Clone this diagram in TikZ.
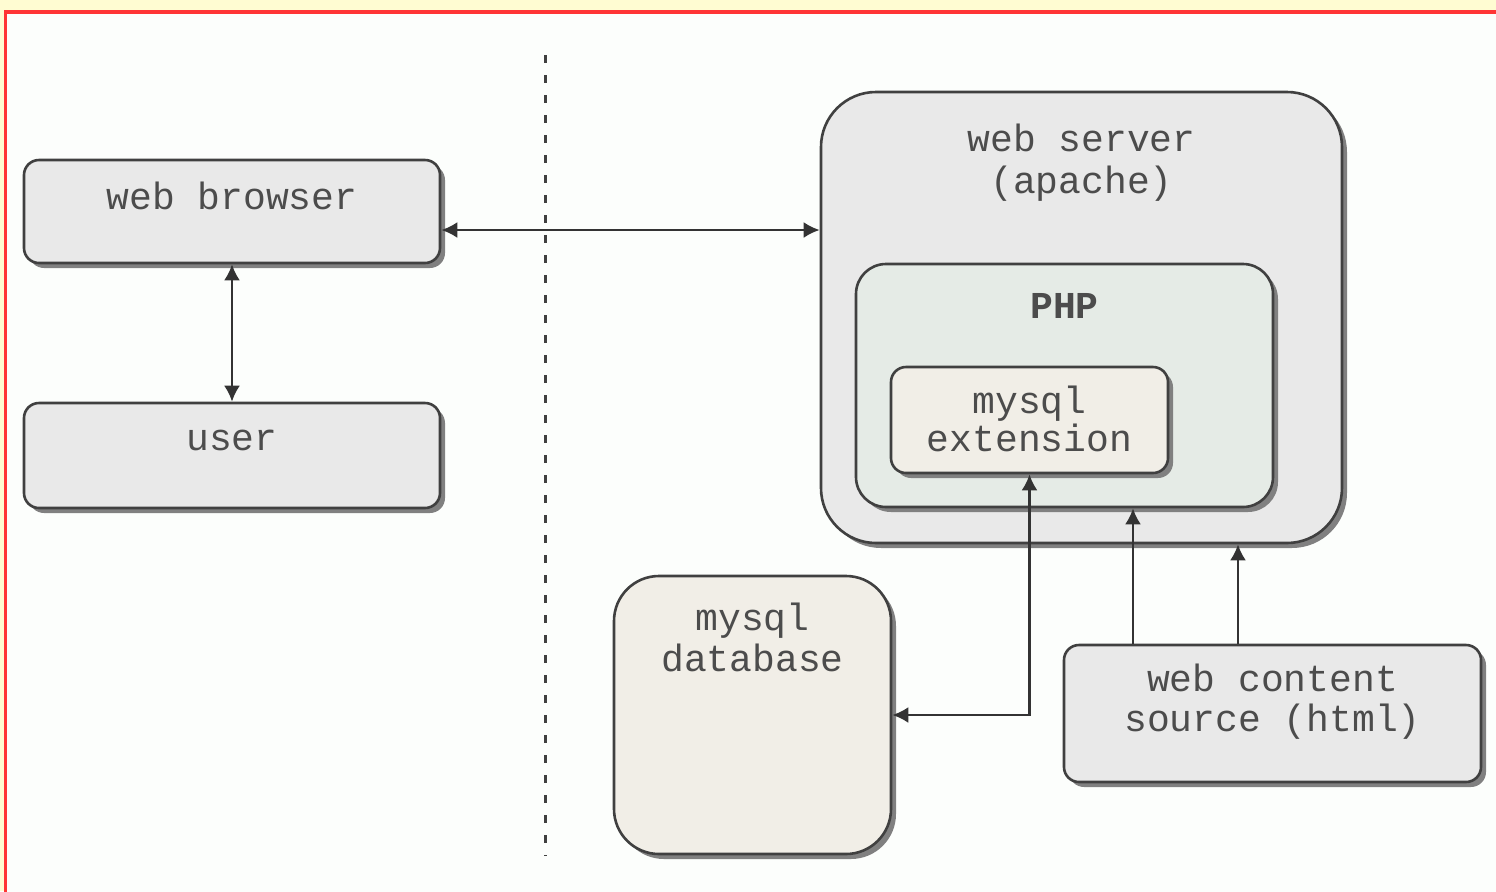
\documentclass[tikz,border=0pt]{standalone}
\usepackage{fontspec}
\setmonofont{Liberation Mono}
\usetikzlibrary{arrows.meta}
\usetikzlibrary{shadows}
\definecolor{paleyellow}{HTML}{FFFCD2}
\definecolor{framered}{HTML}{FF3535}
\definecolor{paper}{HTML}{FCFEFC}
\definecolor{boxgray}{HTML}{E9E9E9}
\definecolor{phpgreen}{HTML}{E5EBE6}
\definecolor{dbbeige}{HTML}{F1EEE7}

\begin{document}
\begin{tikzpicture}[x=.5pt, y=-.5pt, >={Latex[length=8pt, width=8pt]},
  box/.style={draw=black!75, line width=1.3pt, fill=boxgray, rounded corners=7.5pt,
    drop shadow={shadow xshift=2.5pt, shadow yshift=-2.5pt, opacity=1, fill=black!50}},
  txt/.style={font=\ttfamily\fontsize{19}{20}\selectfont, text=black!70, align=center, anchor=base, inner sep=0pt},
  link/.style={draw=black!80, line width=1.3pt}]
\useasboundingbox (0,0) rectangle (1496,891);
\fill[paleyellow] (0,0) rectangle (1496,891);
\filldraw[fill=paper, draw=framered, line width=1.6pt] (5.5,12) rectangle (1520,910);
% dividing line
\draw[black!75, line width=1.5pt, dash pattern=on 4pt off 6pt] (545,55) -- (545,856);
% client side
\node[box, minimum width=208pt, minimum height=51.5pt, label={[txt, name=browser-t, yshift=-25.5pt]north:web browser}] (browser) at (232,211.5) {};
\node[box, minimum width=208pt, minimum height=52.5pt, label={[txt, name=user-t, yshift=-24.5pt]north:user}] (user) at (232,455.5) {};
% server side (base of a two-line label is its last line)
\node[box, minimum width=260.5pt, minimum height=225.5pt, rounded corners=27.5pt, label={[txt, name=server-t, font=\ttfamily\fontsize{19}{21}\selectfont, yshift=-51.5pt]north:web server\\(apache)}] (server) at (1081.5,317.5) {};
\node[box, fill=phpgreen, minimum width=208.5pt, minimum height=121.5pt, rounded corners=15pt, label={[txt, name=php-t, font=\ttfamily\bfseries\fontsize{19}{20}\selectfont, yshift=-28pt]north:PHP}] (php) at (1064.5,385.5) {};
\node[box, fill=dbbeige, minimum width=138.5pt, minimum height=53pt, label={[txt, name=ext-t, font=\ttfamily\fontsize{19}{19}\selectfont, yshift=-43pt]north:mysql\\extension}] (ext) at (1029.5,420) {};
\node[box, fill=dbbeige, minimum width=138.5pt, minimum height=139pt, rounded corners=22.5pt, label={[txt, name=db-t, font=\ttfamily\fontsize{19}{20.5}\selectfont, yshift=-48.5pt]north:mysql\\database}] (db) at (752.5,715) {};
\node[box, minimum width=208.5pt, minimum height=68.5pt, label={[txt, name=content-t, yshift=-44pt]north:web content\\source (html)}] (content) at (1272.5,713.5) {};
% connectors
\coordinate (http) at (0,230);
\coordinate (tophp) at (1133,0);
\coordinate (toserver) at (1238,0);
\draw[link, <->] (browser.east |- http) -- (server.west |- http);
\draw[link, <->] (browser) -- (user);
\draw[link, <->] (ext.south) |- (db.east);
\draw[link, ->] (content.north -| tophp) -- (php.south -| tophp);
\draw[link, ->] (content.north -| toserver) -- (server.south -| toserver);
\end{tikzpicture}
\end{document}
